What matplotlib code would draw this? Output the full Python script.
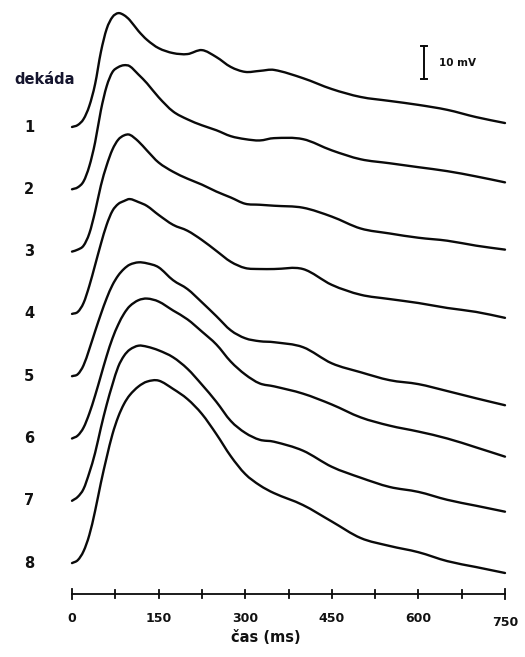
import matplotlib
matplotlib.use('Agg')
import matplotlib.pyplot as plt
from matplotlib.path import Path
from matplotlib.patches import PathPatch
import numpy as np

# ---------------- data (mV above each trace's baseline) ----------------
time_ms = [0, 10, 20, 30, 40, 50, 60, 70, 80, 90, 100, 115, 130, 150, 175, 200,
           225, 250, 275, 300, 325, 350, 400, 450, 500, 550, 600, 650, 700, 750]

dekada_1 = [0, 0.6, 2.4, 6.4, 13.0, 22.7, 29.7, 33.3, 34.5, 33.9, 32.4, 29.1, 26.4, 23.9,
            22.4, 22.1, 23.3, 21.2, 18.2, 16.7, 17.0, 17.3, 14.8, 11.5, 9.1, 7.9, 6.7, 5.2, 3.0, 1.2]
dekada_2 = [0, 0.6, 2.4, 7.0, 14.2, 23.9, 31.2, 35.5, 37.0, 37.6, 37.3, 34.8, 32.1, 27.9,
            23.6, 21.2, 19.4, 17.9, 16.1, 15.2, 14.8, 15.5, 15.2, 11.8, 9.1, 7.9, 6.7, 5.5, 3.9, 2.1]
dekada_3 = [0, 0.6, 1.8, 5.5, 12.1, 20.0, 26.1, 30.9, 33.9, 35.2, 35.4, 33.4, 30.6, 27.0,
            24.2, 22.1, 20.3, 18.2, 16.4, 14.5, 14.2, 13.9, 13.3, 10.6, 7.0, 5.5, 4.2, 3.3, 1.8, 0.6]
dekada_4 = [0, 0.6, 3.3, 8.5, 14.8, 21.2, 27.0, 31.2, 33.3, 34.2, 34.8, 33.9, 32.7, 30.0,
            27.0, 25.2, 22.4, 19.1, 15.8, 13.9, 13.6, 13.6, 13.6, 8.8, 5.8, 4.5, 3.3, 1.8, 0.6, -1.2]
dekada_5 = [0, 0.6, 3.3, 8.2, 13.6, 18.8, 23.6, 27.6, 30.5, 32.5, 33.8, 34.5, 34.2, 33.0,
            29.1, 26.4, 22.4, 18.2, 13.9, 11.5, 10.6, 10.3, 8.8, 3.9, 1.2, -1.2, -2.4, -4.5, -6.7, -8.8]
dekada_6 = [0, 0.9, 3.3, 7.6, 13.0, 19.0, 25.0, 30.3, 34.5, 37.8, 40.1, 41.9, 42.4, 41.5,
            38.8, 36.1, 32.4, 28.5, 23.3, 19.4, 16.7, 15.8, 13.6, 10.3, 6.4, 3.9, 2.1, 0.0, -2.7, -5.5]
dekada_7 = [0, 1.2, 3.6, 8.5, 14.5, 22.1, 29.1, 35.2, 40.6, 43.9, 45.8, 47.0, 46.7, 45.6,
            43.5, 40.0, 35.2, 30.0, 24.2, 20.6, 18.5, 17.9, 15.2, 10.3, 7.0, 4.2, 2.7, 0.3, -1.5, -3.3]
dekada_8 = [0, 0.9, 3.6, 8.5, 15.8, 24.3, 32.0, 39.0, 44.3, 48.2, 50.9, 53.5, 55.0, 55.3,
            52.8, 49.7, 45.2, 39.1, 32.4, 27.0, 23.6, 21.2, 17.6, 12.6, 7.6, 5.2, 3.3, 0.6, -1.2, -3.0]

traces = [dekada_1, dekada_2, dekada_3, dekada_4, dekada_5, dekada_6, dekada_7, dekada_8]
trace_labels = ['1', '2', '3', '4', '5', '6', '7', '8']
x_ticks = [0, 75, 150, 225, 300, 375, 450, 525, 600, 675, 750]
x_ticklabels = ['0', '150', '300', '450', '600', '750']
scale_mv = 10

# ---------------- layout ----------------
W, H = 525, 657
PX_PER_MV = 3.3
PX_PER_MS = 433 / 750.0
X0_PX, BASE1_PX = 72, 127
SPACING = 62.3 / PX_PER_MV


def ypx(p):
    return (BASE1_PX - p) / PX_PER_MV


def xpx(p):
    return (p - X0_PX) / PX_PER_MS


def smooth_path(t, y):
    """Cubic Bezier path passing through every data point (Hermite tangents)."""
    t = np.asarray(t, float)
    y = np.asarray(y, float)
    n = len(t)
    m = np.empty(n)
    m[0] = (y[1] - y[0]) / (t[1] - t[0])
    m[-1] = (y[-1] - y[-2]) / (t[-1] - t[-2])
    m[1:-1] = (y[2:] - y[:-2]) / (t[2:] - t[:-2])
    verts = [(t[0], y[0])]
    codes = [Path.MOVETO]
    for i in range(n - 1):
        dt = t[i + 1] - t[i]
        verts += [(t[i] + dt / 3, y[i] + m[i] * dt / 3),
                  (t[i + 1] - dt / 3, y[i + 1] - m[i + 1] * dt / 3),
                  (t[i + 1], y[i + 1])]
        codes += [Path.CURVE4] * 3
    return Path(verts, codes)


fig = plt.figure(figsize=(W / 100, H / 100), dpi=100)
ax = fig.add_axes([X0_PX / W, 0, 433 / W, 1])
ax.set_xlim(0, 750)
ax.set_ylim(ypx(H), ypx(0))
ax.axis('off')

ink = '#0a0a0a'
for i, tr in enumerate(traces):
    off = -i * SPACING
    p = smooth_path(time_ms, np.array(tr) + off)
    ax.add_patch(PathPatch(p, fill=False, edgecolor=ink, lw=1.7, capstyle='round',
                           joinstyle='round', clip_on=False))
    ax.text(xpx(29), off, trace_labels[i], ha='center', va='center',
            fontsize=10.5, fontweight='bold', color='#111111')

ax.text(xpx(45), ypx(79), 'dekáda', ha='center', va='center', fontsize=10.5,
        fontweight='bold', color='#15152e')

# time axis
y_ax = ypx(594)
ax.plot([x_ticks[0], x_ticks[-1]], [y_ax, y_ax], color=ink, lw=1.3, clip_on=False)
for i, t in enumerate(x_ticks):
    h = 5 if i in (0, len(x_ticks) - 1) else 4
    ax.plot([t, t], [y_ax - h / PX_PER_MV, y_ax + h / PX_PER_MV], color=ink, lw=1.3,
            clip_on=False)
for lab in x_ticklabels:
    t = float(lab)
    yy = ypx(623) if t == 750 else ypx(619)
    ax.text(t, yy, lab, ha='center', va='center', fontsize=9, fontweight='bold',
            color='#111111')
ax.text(xpx(266), ypx(638), 'čas (ms)', ha='center', va='center', fontsize=10.5,
        fontweight='bold', color='#111111')

# scale bar
xb = xpx(424)
yb0 = ypx(79)
ax.plot([xb, xb], [yb0, yb0 + scale_mv], color=ink, lw=1.4)
cap = 3 / PX_PER_MS
for yy in (yb0, yb0 + scale_mv):
    ax.plot([xb - cap, xb + cap], [yy, yy], color=ink, lw=1.4)
ax.text(xpx(439), yb0 + scale_mv / 2, f'{scale_mv} mV', ha='left', va='center',
        fontsize=7.5, fontweight='bold', color='#111111')

fig.savefig('out.png', dpi=100, facecolor='white')
